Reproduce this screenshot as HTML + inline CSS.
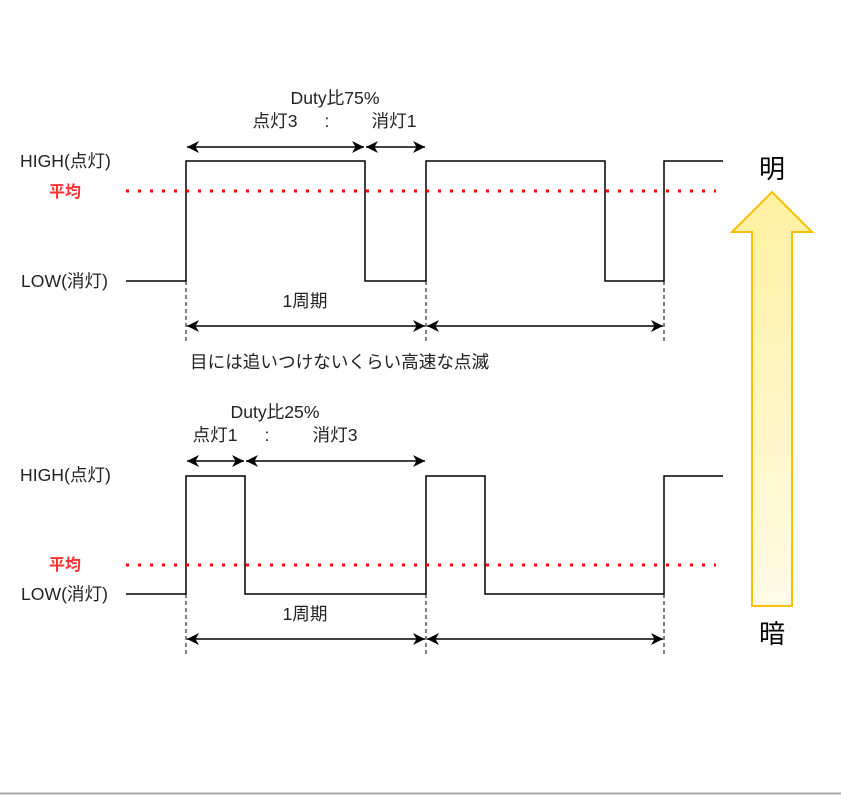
<!DOCTYPE html>
<html><head><meta charset="utf-8"><style>
html,body{margin:0;padding:0;background:#fff;width:841px;height:796px;overflow:hidden}
text{font-family:"Liberation Sans","Noto Sans CJK JP",sans-serif;font-size:17.6px;fill:#222}
</style></head><body>
<svg width="841" height="796" viewBox="0 0 841 796" xmlns="http://www.w3.org/2000/svg">
<defs>
<marker id="a" viewBox="0 0 12 12" refX="12" refY="6" markerWidth="12" markerHeight="12" markerUnits="userSpaceOnUse" orient="auto-start-reverse"><path d="M0,0 L12,6 L0,12 L3.5,6 Z" fill="#000"/></marker>
<linearGradient id="g" x1="0" y1="0" x2="0" y2="1"><stop offset="0" stop-color="#fff0a0"/><stop offset="1" stop-color="#fffbe6"/></linearGradient>
</defs>
<line x1="0" y1="793.5" x2="841" y2="793.5" stroke="#aaa" stroke-width="2"/>
<g fill="none" stroke="#000" stroke-width="1.5">
<polyline points="126,281 186,281 186,161 365,161 365,281 426,281 426,161 605,161 605,281 664,281 664,161 723,161"/>
<polyline points="126,594 186,594 186,476 245,476 245,594 426,594 426,476 485,476 485,594 664,594 664,476 723,476"/>
</g>
<g stroke="#000" stroke-width="1" stroke-dasharray="4,3">
<line x1="186" y1="281" x2="186" y2="341"/><line x1="426" y1="281" x2="426" y2="341"/><line x1="664" y1="281" x2="664" y2="341"/>
<line x1="186" y1="594" x2="186" y2="655"/><line x1="426" y1="594" x2="426" y2="655"/><line x1="664" y1="594" x2="664" y2="655"/>
</g>
<g stroke="#f00" stroke-width="3" stroke-dasharray="3,9">
<line x1="126" y1="191" x2="716" y2="191"/><line x1="126" y1="565" x2="716" y2="565"/>
</g>
<g stroke="#000" stroke-width="1.5" marker-start="url(#a)" marker-end="url(#a)">
<line x1="187" y1="147" x2="364" y2="147"/><line x1="366" y1="147" x2="425" y2="147"/>
<line x1="187" y1="326" x2="425" y2="326"/><line x1="427" y1="326" x2="663" y2="326"/>
<line x1="187" y1="461" x2="244" y2="461"/><line x1="246" y1="461" x2="425" y2="461"/>
<line x1="187" y1="639" x2="425" y2="639"/><line x1="427" y1="639" x2="663" y2="639"/>
</g>
<polygon points="772,192 812,232 792,232 792,606 752,606 752,232 732,232" fill="url(#g)" stroke="#fbbf00" stroke-width="2"/>
<text x="335" y="104" text-anchor="middle">Duty比75%</text>
<text x="275" y="127" text-anchor="middle">点灯3</text>
<text x="327" y="127" text-anchor="middle">:</text>
<text x="394" y="127" text-anchor="middle">消灯1</text>
<text x="20" y="167">HIGH(点灯)</text>
<text x="49" y="197" style="fill:#f33;font-weight:bold;font-size:16px">平均</text>
<text x="21" y="287">LOW(消灯)</text>
<text x="305" y="307" text-anchor="middle">1周期</text>
<text x="190" y="368">目には追いつけないくらい高速な点滅</text>
<text x="275" y="418" text-anchor="middle">Duty比25%</text>
<text x="215" y="441" text-anchor="middle">点灯1</text>
<text x="267" y="441" text-anchor="middle">:</text>
<text x="335" y="441" text-anchor="middle">消灯3</text>
<text x="20" y="481">HIGH(点灯)</text>
<text x="49" y="570" style="fill:#f33;font-weight:bold;font-size:16px">平均</text>
<text x="21" y="600">LOW(消灯)</text>
<text x="305" y="620" text-anchor="middle">1周期</text>
<text x="772" y="178" text-anchor="middle" style="font-size:26px;fill:#000">明</text>
<text x="772" y="643" text-anchor="middle" style="font-size:26px;fill:#000">暗</text>
</svg>
</body></html>
